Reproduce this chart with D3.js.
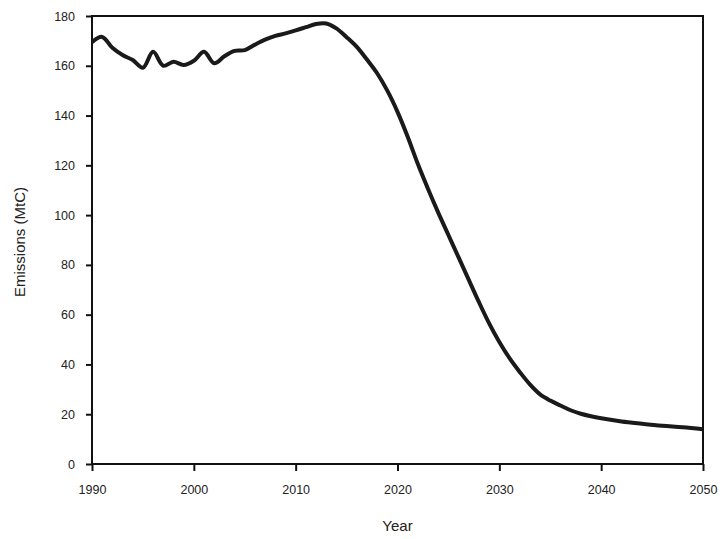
<!DOCTYPE html>
<html>
<head>
<meta charset="utf-8">
<script src="https://cdn.jsdelivr.net/npm/d3@7"></script>
<style>
  body { margin: 0; background: #fff; }
  .axis text { font-family: "Liberation Sans", Arial, sans-serif; font-size: 12.5px; fill: #222; }
  .axis-title { font-family: "Liberation Sans", Arial, sans-serif; font-size: 15px; fill: #222; }
</style>
</head>
<body>
<svg id="chart"></svg>
<script>
// emissions trajectory
const years = [1990, 1991, 1992, 1993, 1994, 1995, 1996, 1997, 1998, 1999,
  2000, 2001, 2002, 2003, 2004, 2005, 2006, 2007, 2008, 2009,
  2010, 2011, 2012, 2013, 2014, 2015, 2016, 2017, 2018, 2019,
  2020, 2021, 2022, 2023, 2024, 2025, 2026, 2027, 2028, 2029,
  2030, 2031, 2032, 2033, 2034, 2035, 2036, 2037, 2038, 2039,
  2040, 2042, 2044, 2046, 2048, 2050];
const emissions = [169.5, 171.6, 167.2, 164.3, 162.3, 159.2, 165.6, 160, 161.6, 160.3,
  162, 165.6, 161, 163.8, 166, 166.3, 168.5, 170.5, 172, 173,
  174.2, 175.5, 176.8, 177, 175, 171.5, 167.6, 162.5, 157, 150,
  141.5, 131.5, 120.5, 110.5, 101, 92, 83, 74, 65, 56.5,
  49, 42.5, 37, 32, 28, 25.5, 23.5, 21.6, 20.2, 19.2,
  18.4, 17.1, 16.2, 15.4, 14.8, 14];
const xTicks = [1990, 2000, 2010, 2020, 2030, 2040, 2050];
const xTickLabels = ['1990', '2000', '2010', '2020', '2030', '2040', '2050'];
const yTicks = [0, 20, 40, 60, 80, 100, 120, 140, 160, 180];

const width = 722, height = 539;
const margin = {top: 16, right: 19, bottom: 75, left: 92};
const innerW = width - margin.left - margin.right;
const innerH = height - margin.top - margin.bottom;

const data = years.map((y, i) => ({year: y, value: emissions[i]}));

const svg = d3.select('#chart')
    .attr('width', width)
    .attr('height', height);

const chart = svg.append('g')
    .attr('transform', `translate(${margin.left},${margin.top})`);

const xScale = d3.scaleLinear()
    .domain([1990, 2050])
    .range([0, innerW]);

const yScale = d3.scaleLinear()
    .domain([0, 180])
    .range([innerH, 0]);

// axes
chart.append('g')
    .attr('class', 'axis x-axis')
    .attr('transform', `translate(0,${innerH})`)
    .call(d3.axisBottom(xScale).tickValues(xTicks)
      .tickFormat((d, i) => xTickLabels[i]).tickSize(7).tickPadding(14))
    .call(g => g.select('.domain').remove())
    .call(g => g.selectAll('line').attr('stroke', '#111').attr('stroke-width', 2));

chart.append('g')
    .attr('class', 'axis y-axis')
    .call(d3.axisLeft(yScale).tickValues(yTicks).tickSize(6).tickPadding(11))
    .call(g => g.select('.domain').remove())
    .call(g => g.selectAll('line').attr('stroke', '#111').attr('stroke-width', 2));

// frame
chart.append('rect')
    .attr('width', innerW)
    .attr('height', innerH)
    .attr('fill', 'none')
    .attr('stroke', '#111')
    .attr('stroke-width', 2);

// the emissions line
const line = d3.line()
    .x(d => xScale(d.year))
    .y(d => yScale(d.value))
    .curve(d3.curveCatmullRom.alpha(0.5));

chart.append('path')
    .datum(data)
    .attr('fill', 'none')
    .attr('stroke', '#1a1a1a')
    .attr('stroke-width', 4)
    .attr('stroke-linejoin', 'round')
    .attr('d', line);

// axis titles
svg.append('text')
    .attr('class', 'axis-title')
    .attr('x', margin.left + innerW / 2)
    .attr('y', 531)
    .style('text-anchor', 'middle')
    .text('Year');

svg.append('text')
    .attr('class', 'axis-title')
    .attr('transform', `translate(25,${margin.top + innerH / 2 + 2}) rotate(-90)`)
    .style('text-anchor', 'middle')
    .text('Emissions (MtC)');
</script>
</body>
</html>
